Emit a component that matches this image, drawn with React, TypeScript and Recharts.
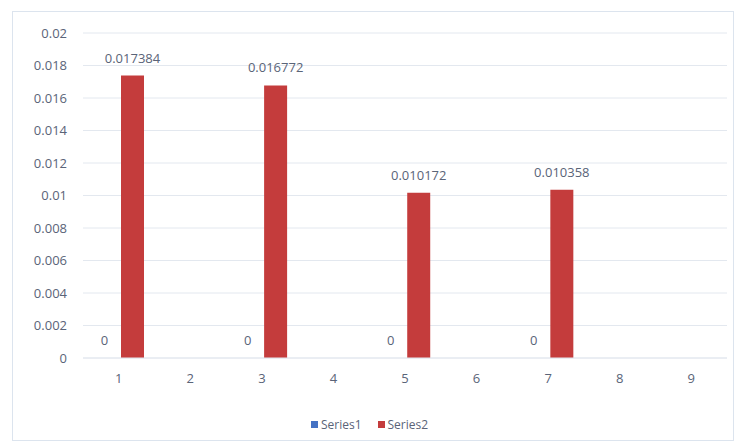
import { BarChart, Bar, XAxis, YAxis, CartesianGrid, LabelList } from "recharts";

const categories = ["1", "2", "3", "4", "5", "6", "7", "8", "9"];
const series1 = [0, null, 0, null, 0, null, 0, null, null];
const series2 = [0.017384, null, 0.016772, null, 0.010172, null, 0.010358, null, null];
const yTicks = [0, 0.002, 0.004, 0.006, 0.008, 0.01, 0.012, 0.014, 0.016, 0.018, 0.02];

const data = categories.map((name, i) => ({
  name,
  Series1: series1[i],
  Series2: series2[i],
}));

const textColor = "#5a6478";
const font = "'Open Sans', 'Noto Sans', sans-serif";

const renderLabel = (props: any) => {
  const { x, y, width, value } = props;
  if (value === null || value === undefined) return null;
  return (
    <text
      x={Number(x) + Number(width) / 2}
      y={Number(y) - 13}
      textAnchor="middle"
      fill={textColor}
      fontSize={13}
      fontFamily={font}
    >
      {String(value)}
    </text>
  );
};

export default function App() {
  return (
    <div
      style={{
        position: "absolute",
        left: 0,
        top: 0,
        width: 739,
        height: 448,
        background: "#fff",
      }}
    >
      <div
        style={{
          position: "absolute",
          left: 12,
          top: 11,
          width: 720,
          height: 428,
          border: "1px solid #dce4ee",
        }}
      />
      <BarChart
        width={739}
        height={448}
        data={data}
        margin={{ top: 33, right: 12, left: 0, bottom: 60 }}
        barSize={23}
        barGap={5}
      >
        <CartesianGrid vertical={false} stroke="#e3e8ef" />
        <XAxis
          dataKey="name"
          axisLine={{ stroke: "#e3e8ef" }}
          tickLine={false}
          tickSize={0}
          tickMargin={16}
          height={30}
          tick={{ fill: textColor, fontSize: 13, fontFamily: font }}
        />
        <YAxis
          width={83}
          domain={[0, 0.02]}
          ticks={yTicks}
          axisLine={false}
          tickLine={false}
          tickSize={0}
          tickMargin={16}
          tick={{ fill: textColor, fontSize: 13, fontFamily: font }}
        />
        <Bar dataKey="Series1" fill="#4472c4" minPointSize={0.01} isAnimationActive={false}>
          <LabelList dataKey="Series1" content={renderLabel} />
        </Bar>
        <Bar dataKey="Series2" fill="#c43c3c" isAnimationActive={false}>
          <LabelList dataKey="Series2" content={renderLabel} />
        </Bar>
      </BarChart>
      <div
        style={{
          position: "absolute",
          top: 416,
          left: 0,
          width: 739,
          display: "flex",
          justifyContent: "center",
          gap: 16,
          fontFamily: font,
          fontSize: 12,
          color: textColor,
        }}
      >
        <span style={{ display: "flex", alignItems: "center", gap: 3 }}>
          <span style={{ width: 7, height: 7, background: "#4472c4", display: "inline-block" }} />
          Series1
        </span>
        <span style={{ display: "flex", alignItems: "center", gap: 3 }}>
          <span style={{ width: 7, height: 7, background: "#c43c3c", display: "inline-block" }} />
          Series2
        </span>
      </div>
    </div>
  );
}
